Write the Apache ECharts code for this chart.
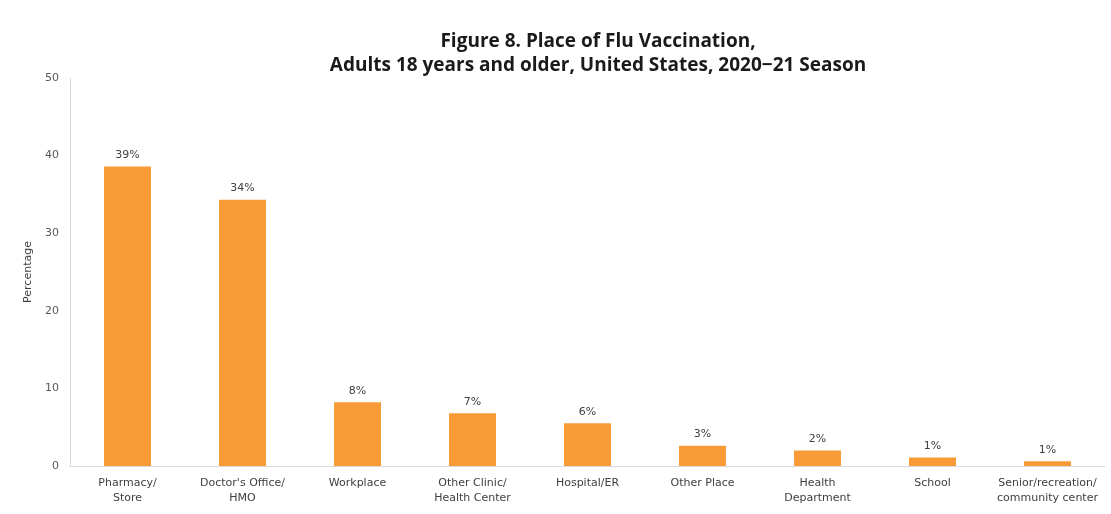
<!DOCTYPE html>
<html><head><meta charset="utf-8">
<script src="https://cdn.jsdelivr.net/npm/echarts@6/dist/echarts.min.js"></script>
<style>html,body{margin:0;padding:0;background:#fff}#c{width:1111px;height:514px}</style>
</head><body><div id="c"></div>
<script>
const categories = ["Pharmacy/\nStore","Doctor's Office/\nHMO","Workplace","Other Clinic/\nHealth Center","Hospital/ER","Other Place","Health\nDepartment","School","Senior/recreation/\ncommunity center"];
const values = [38.6, 34.3, 8.2, 6.8, 5.5, 2.6, 2.0, 1.1, 0.6];
const pctLabels = ["39%","34%","8%","7%","6%","3%","2%","1%","1%"];
const yTicks = [0, 10, 20, 30, 40, 50];

const chart = echarts.init(document.getElementById('c'));
chart.setOption({
  animation: false,
  title: {
    text: 'Figure 8. Place of Flu Vaccination,\nAdults 18 years and older, United States, 2020\u221221 Season',
    left: 593, top: 25, textAlign: 'center',
    textStyle: {fontFamily: 'Open Sans', fontWeight: 'bold', fontSize: 19, lineHeight: 24, color: '#1a1a1a'}
  },
  grid: {left: 70, right: 6, top: 78, bottom: 48},
  xAxis: {
    type: 'category', data: categories,
    axisLine: {lineStyle: {color: '#d9d9d9'}},
    axisTick: {show: false},
    axisLabel: {interval: 0, color: '#404040', fontFamily: 'DejaVu Sans', fontSize: 11, lineHeight: 15, margin: 10}
  },
  yAxis: {
    type: 'value', min: yTicks[0], max: yTicks[yTicks.length-1], interval: 10,
    name: 'Percentage', nameLocation: 'middle', nameGap: 35,
    nameTextStyle: {color: '#404040', fontFamily: 'DejaVu Sans', fontSize: 11},
    axisLine: {show: true, lineStyle: {color: '#d9d9d9'}},
    axisTick: {show: false},
    splitLine: {show: false},
    axisLabel: {color: '#595959', fontFamily: 'DejaVu Sans', fontSize: 11, margin: 11}
  },
  series: [{
    type: 'bar', data: values, barWidth: 47,
    itemStyle: {color: '#F89A35'},
    label: {show: true, position: 'top', distance: 6, color: '#404040', fontFamily: 'DejaVu Sans', fontSize: 11,
      formatter: p => pctLabels[p.dataIndex]}
  }]
});
</script></body></html>
